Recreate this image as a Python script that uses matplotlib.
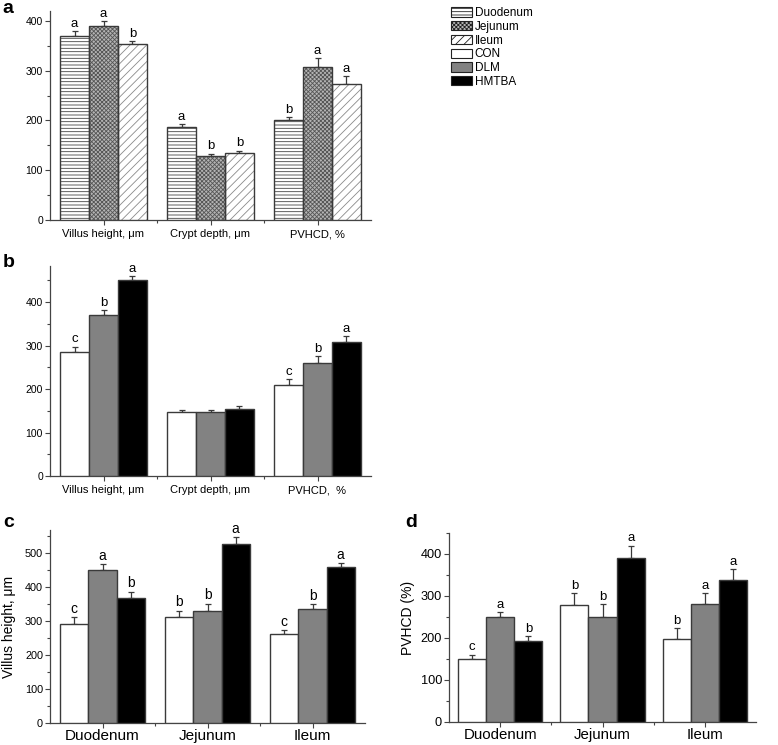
import numpy as np
import matplotlib
matplotlib.use("Agg")
import matplotlib.pyplot as plt
from matplotlib.patches import Patch
from matplotlib.ticker import FixedLocator, MultipleLocator

plt.rcParams['font.family'] = ['Liberation Sans', 'DejaVu Sans']
plt.rcParams['hatch.linewidth'] = 0.6

# ---- data ----
cats_ab = ["Villus height, μm", "Crypt depth, μm", "PVHCD, %"]
cats_b = ["Villus height, μm", "Crypt depth, μm", "PVHCD,  %"]
segments = ["Duodenum", "Jejunum", "Ileum"]
diets = ["CON", "DLM", "HMTBA"]

# panel a: effect of intestinal segment
a_duo = [370, 187, 201]
a_jej = [390, 128, 307]
a_ile = [353, 134, 273]
a_duo_err = [10, 5, 5]
a_jej_err = [10, 5, 18]
a_ile_err = [6, 5, 16]
a_duo_let = ["a", "a", "b"]
a_jej_let = ["a", "b", "a"]
a_ile_let = ["b", "b", "a"]

# panel b: effect of diet
b_con = [286, 148, 210]
b_dlm = [370, 147, 261]
b_hmtba = [450, 154, 308]
b_con_err = [11, 4, 13]
b_dlm_err = [11, 5, 14]
b_hmtba_err = [10, 6, 13]
b_con_let = ["c", "", "c"]
b_dlm_let = ["b", "", "b"]
b_hmtba_let = ["a", "", "a"]

# panel c: villus height by segment x diet
c_con = [291, 313, 262]
c_dlm = [449, 331, 336]
c_hmtba = [368, 527, 459]
c_con_err = [21, 18, 12]
c_dlm_err = [19, 20, 14]
c_hmtba_err = [19, 20, 12]
c_con_let = ["c", "b", "c"]
c_dlm_let = ["a", "b", "b"]
c_hmtba_let = ["b", "a", "a"]

# panel d: PVHCD by segment x diet
d_con = [150, 278, 198]
d_dlm = [251, 251, 281]
d_hmtba = [194, 390, 337]
d_con_err = [10, 28, 26]
d_dlm_err = [11, 30, 25]
d_hmtba_err = [11, 30, 27]
d_con_let = ["c", "b", "b"]
d_dlm_let = ["a", "b", "a"]
d_hmtba_let = ["b", "a", "a"]

EDGE = "#3a3a3a"
seg_styles = [dict(facecolor="white", hatch="-----", hcolor="#444444"),
              dict(facecolor="#b4b4b4", hatch="xxxxxxxx", hcolor="#555555"),
              dict(facecolor="white", hatch="////", hcolor="#8a8a8a")]
diet_styles = [dict(facecolor="white", hatch=None, hcolor=EDGE),
               dict(facecolor="#828282", hatch=None, hcolor=EDGE),
               dict(facecolor="black", hatch=None, hcolor=EDGE)]


def panel(ax, series, errs, letters, styles, ylim, yticks, tick_fs, let_fs,
          cats, cat_fs, w=0.27, cat_pad=3):
    x = np.arange(1, 4)
    for k, (vals, err, lets, st) in enumerate(zip(series, errs, letters, styles)):
        xs = x + (k - 1) * w
        if st["hatch"]:
            ax.bar(xs, vals, w, color=st["facecolor"], hatch=st["hatch"],
                   edgecolor=st["hcolor"], linewidth=0, zorder=3)
            ax.bar(xs, vals, w, fill=False, edgecolor=EDGE, linewidth=1.0, zorder=4)
        else:
            ax.bar(xs, vals, w, color=st["facecolor"], edgecolor=EDGE,
                   linewidth=1.0, zorder=3)
        ax.errorbar(xs, vals, yerr=[np.zeros(3), err], fmt="none", ecolor=EDGE,
                    elinewidth=0.9, capsize=2, capthick=0.9, zorder=2)
        for xi, v, e, t in zip(xs, vals, err, lets):
            if t:
                ax.annotate(t, (xi, v + e), xytext=(0, 1), textcoords="offset points",
                            ha="center", va="bottom", fontsize=let_fs)
    ax.set_xlim(0.5, 3.5)
    ax.set_ylim(*ylim)
    ax.set_yticks(yticks)
    ax.yaxis.set_minor_locator(MultipleLocator(50))
    ax.set_xticks(x)
    ax.set_xticklabels(cats, fontsize=cat_fs)
    ax.xaxis.set_minor_locator(FixedLocator([1.5, 2.5]))
    for s in ("top", "right"):
        ax.spines[s].set_visible(False)
    for s in ("left", "bottom"):
        ax.spines[s].set_color("#444444")
        ax.spines[s].set_linewidth(0.9)
    ax.tick_params(axis="both", which="major", length=3.5, width=0.8, color="#444444",
                   labelsize=tick_fs, pad=1.5)
    ax.tick_params(axis="both", which="minor", length=2.5, width=0.8, color="#444444")
    ax.tick_params(axis="x", labelsize=cat_fs, pad=cat_pad)


fig = plt.figure(figsize=(7.78, 7.45), dpi=100)
W, H = 778, 745


def box(l, t, r, b):
    return [l / W, 1 - b / H, (r - l) / W, (b - t) / H]


ax_a = fig.add_axes(box(50, 11, 371, 220))
panel(ax_a, [a_duo, a_jej, a_ile], [a_duo_err, a_jej_err, a_ile_err],
      [a_duo_let, a_jej_let, a_ile_let], seg_styles, (0, 420), range(0, 401, 100),
      7.5, 9.5, cats_ab, 8)

ax_b = fig.add_axes(box(50, 266, 371, 476))
panel(ax_b, [b_con, b_dlm, b_hmtba], [b_con_err, b_dlm_err, b_hmtba_err],
      [b_con_let, b_dlm_let, b_hmtba_let], diet_styles, (0, 483), range(0, 401, 100),
      7.5, 9.5, cats_b, 8)

ax_c = fig.add_axes(box(50, 530, 365, 723))
panel(ax_c, [c_con, c_dlm, c_hmtba], [c_con_err, c_dlm_err, c_hmtba_err],
      [c_con_let, c_dlm_let, c_hmtba_let], diet_styles, (0, 568), range(0, 501, 100),
      7.8, 10, segments, 11, w=0.268, cat_pad=0.5)
ax_c.set_ylabel("Villus height, μm", fontsize=10)
ax_c.yaxis.set_label_coords(-0.108, 0.5)

ax_d = fig.add_axes(box(449, 533, 756, 722))
panel(ax_d, [d_con, d_dlm, d_hmtba], [d_con_err, d_dlm_err, d_hmtba_err],
      [d_con_let, d_dlm_let, d_hmtba_let], diet_styles, (0, 450), range(0, 401, 100),
      9.2, 9.5, segments, 10.8, w=0.275, cat_pad=0.5)
ax_d.set_ylabel("PVHCD (%)", fontsize=10)
ax_d.yaxis.set_label_coords(-0.11, 0.55)

for lab, (px, py) in zip("abcd", [(2, 13), (3, 267), (3, 527), (405, 527)]):
    fig.text(px / W, 1 - py / H, lab, fontsize=14, fontweight="bold",
             ha="left", va="baseline")

handles = [Patch(facecolor=st["facecolor"], edgecolor="#222222", hatch=st["hatch"],
                 linewidth=0.8) for st in seg_styles]
handles += [Patch(facecolor=st["facecolor"], edgecolor="#222222", linewidth=0.8)
            for st in diet_styles]
fig.legend(handles, segments + diets, loc="upper left",
           bbox_to_anchor=(451 / W, 1 - 7 / H), frameon=False, fontsize=8.5,
           handlelength=1.8, handleheight=0.85, handletextpad=0.2,
           labelspacing=0.15, borderpad=0, borderaxespad=0)

fig.savefig("out.png", dpi=100)
